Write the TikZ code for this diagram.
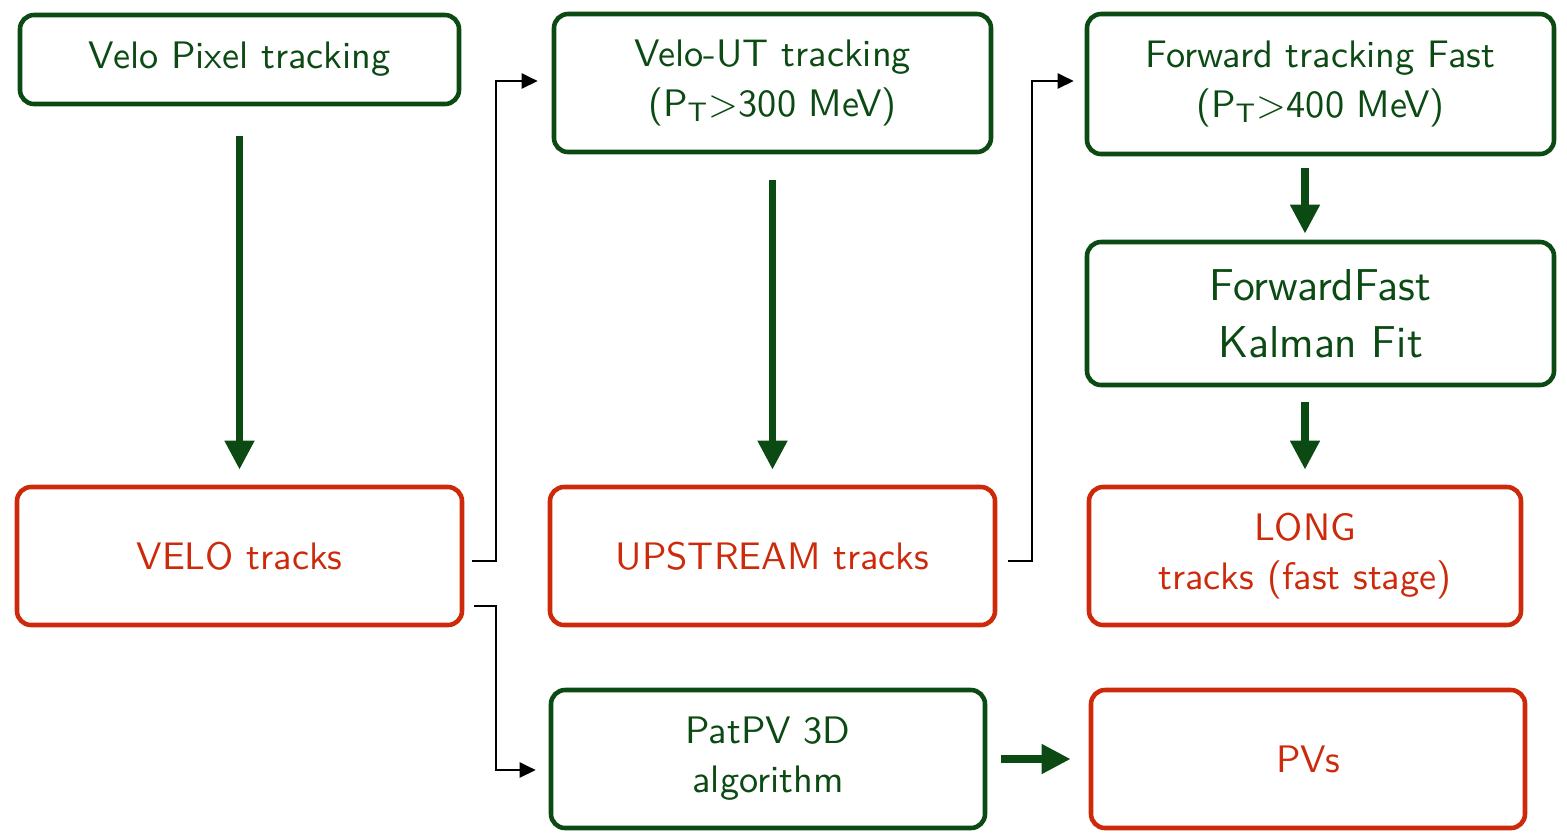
\documentclass[tikz,border=0pt]{standalone}
\usepackage{fontspec}
\usepackage{tikz}
\usetikzlibrary{arrows.meta,positioning,calc}
\definecolor{AlgGreen}{HTML}{0B4A12}
\definecolor{TrackRed}{HTML}{CC2A0A}
\tikzset{
  BX/.style={rectangle,rounded corners=4pt,line width=1.3pt,
             text centered,align=center,draw,
             font=\sffamily\fontsize{10.9}{14}\selectfont},
  nAlg/.style={BX,draw=AlgGreen,text=AlgGreen},
  nOut/.style={BX,draw=TrackRed,text=TrackRed},
  bigarr/.style={-{Triangle[length=0.29cm,width=0.28cm]},line width=2.2pt,draw=AlgGreen,fill=AlgGreen},
  lnk/.style={-{Triangle[length=0.16cm,width=0.15cm]},line width=0.6pt}
}
\begin{document}
\begin{tikzpicture}
  \useasboundingbox (0,0) rectangle (15.67,-8.36);
  \node[nAlg,minimum width=4.39cm,minimum height=0.89cm] (vp) at (2.395,-0.595) {Velo Pixel tracking};
  \node[nAlg,minimum width=4.37cm,minimum height=1.38cm] (vut) at (7.725,-0.83) {Velo-UT tracking\\(P\textsubscript{T}>300 MeV)};
  \node[nAlg,minimum width=4.67cm,minimum height=1.40cm] (fwd) at (13.205,-0.84) {Forward tracking Fast\\(P\textsubscript{T}>400 MeV)};
  \node[nAlg,minimum width=4.67cm,minimum height=1.43cm,font=\sffamily\fontsize{12.7}{16.2}\selectfont] (kf) at (13.205,-3.135) {ForwardFast\\Kalman Fit};
  \node[nOut,minimum width=4.45cm,minimum height=1.38cm] (velo) at (2.395,-5.56) {VELO tracks};
  \node[nOut,minimum width=4.45cm,minimum height=1.38cm] (up) at (7.725,-5.56) {UPSTREAM tracks};
  \node[nOut,minimum width=4.32cm,minimum height=1.38cm] (long) at (13.05,-5.56) {LONG\\tracks (fast stage)};
  \node[nAlg,minimum width=4.34cm,minimum height=1.38cm] (pv3d) at (7.68,-7.59) {PatPV 3D\\algorithm};
  \node[nOut,minimum width=4.34cm,minimum height=1.38cm] (pvs) at (13.08,-7.59) {PVs};
  \draw[bigarr,shorten <=0.30cm,shorten >=0.15cm] (vp) -- (velo);
  \draw[bigarr,shorten <=0.26cm,shorten >=0.15cm] (vut) -- (up);
  \draw[bigarr,shorten <=0.12cm,shorten >=0.06cm] (fwd.south -| long.north) -- (kf.north -| long.north);
  \draw[bigarr,shorten <=0.15cm,shorten >=0.15cm] (kf.south -| long.north) -- (long.north);
  \draw[bigarr,shorten <=0.14cm,shorten >=0.18cm] (pv3d) -- (pvs);
  \coordinate (veloA) at ($(velo.east)+(0.08,-0.05)$);
  \coordinate (veloB) at ($(velo.east)+(0.10,-0.50)$);
  \coordinate (upA) at ($(up.east)+(0.11,-0.05)$);
  \draw[lnk] (veloA) -- ++(0.24,0) |- ($(vut.west)+(-0.14,0.02)$);
  \draw[lnk] (upA) -- ++(0.24,0) |- ($(fwd.west)+(-0.11,0.03)$);
  \draw[lnk] (veloB) -- ++(0.22,0) |- ($(pv3d.west)+(-0.13,-0.11)$);
\end{tikzpicture}
\end{document}
